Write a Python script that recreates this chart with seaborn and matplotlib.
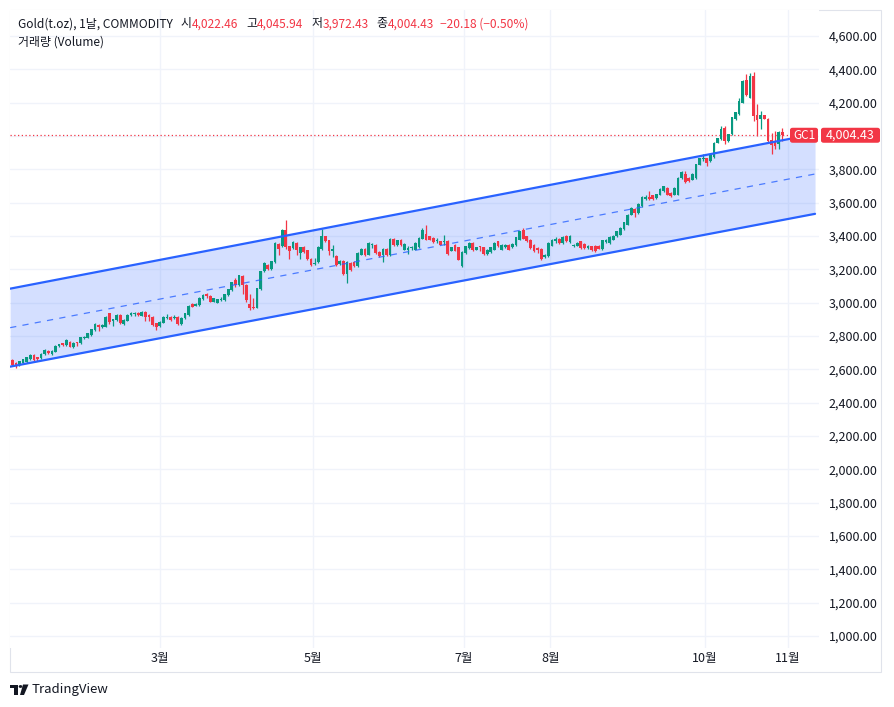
import matplotlib
matplotlib.use('Agg')
import matplotlib.pyplot as plt
from matplotlib.patches import FancyBboxPatch, Rectangle, Circle, Polygon
from matplotlib.ticker import FuncFormatter
import numpy as np
import pandas as pd
import seaborn as sns

# ---- GC1 daily candles ----
opens = [
    2655, 2639, 2625, 2639, 2645, 2660, 2685, 2672, 2666, 2692,
    2710, 2690, 2706, 2740, 2756, 2746, 2766, 2734, 2760, 2756,
    2788, 2790, 2806, 2836, 2866, 2852, 2856, 2936, 2892, 2896,
    2926, 2870, 2892, 2926, 2933, 2940, 2922, 2946, 2926, 2916,
    2876, 2860, 2880, 2907, 2916, 2907, 2916, 2872, 2907, 2926,
    2990, 2982, 2987, 3021, 3051, 3041, 3006, 3000, 3015, 3013,
    3047, 3073, 3137, 3103, 3163, 3107, 2993, 2976, 2970, 3081,
    3187, 3227, 3201, 3241, 3352, 3340, 3438, 3338, 3328, 3358,
    3298, 3334, 3314, 3262, 3232, 3241, 3322, 3398, 3374, 3308,
    3281, 3231, 3251, 3173, 3238, 3244, 3217, 3288, 3322, 3288,
    3345, 3348, 3304, 3284, 3322, 3284, 3382, 3344, 3374, 3318,
    3318, 3326, 3318, 3332, 3384, 3412, 3398, 3388, 3372, 3368,
    3364, 3372, 3312, 3348, 3332, 3217, 3298, 3328, 3358, 3318,
    3338, 3332, 3292, 3304, 3318, 3368, 3318, 3332, 3348, 3332,
    3344, 3378, 3438, 3398, 3378, 3348, 3328, 3322, 3274, 3281,
    3342, 3368, 3382, 3358, 3398, 3362, 3340, 3342, 3368, 3354,
    3328, 3338, 3342, 3342, 3322, 3362, 3358, 3378, 3398, 3408,
    3442, 3468, 3528, 3563, 3539, 3579, 3623, 3635, 3643, 3629,
    3649, 3669, 3689, 3659, 3649, 3649, 3749, 3773, 3749, 3739,
    3749, 3829, 3860, 3866, 3849, 3873, 3960, 3980, 4046, 3970,
    4010, 4100, 4130, 4201, 4335, 4231, 4361, 4124, 4100, 4124,
    4100, 3974, 3966, 3950, 4022.46,
]
highs = [
    2660, 2642, 2652, 2664, 2676, 2695, 2690, 2676, 2696, 2725,
    2714, 2714, 2744, 2754, 2760, 2780, 2770, 2764, 2766, 2796,
    2800, 2820, 2844, 2876, 2870, 2870, 2920, 2940, 2905, 2930,
    2930, 2900, 2930, 2946, 2946, 2946, 2950, 2950, 2930, 2920,
    2880, 2890, 2918, 2931, 2920, 2928, 2920, 2914, 2940, 2986,
    3000, 2996, 3035, 3051, 3057, 3045, 3031, 3025, 3033, 3055,
    3085, 3127, 3147, 3167, 3167, 3111, 3051, 3027, 3091, 3191,
    3242, 3232, 3252, 3362, 3356, 3445, 3498, 3342, 3368, 3362,
    3336, 3338, 3318, 3266, 3268, 3338, 3442, 3402, 3378, 3348,
    3285, 3255, 3255, 3251, 3242, 3248, 3302, 3326, 3326, 3362,
    3358, 3352, 3308, 3328, 3326, 3386, 3386, 3378, 3380, 3356,
    3338, 3338, 3362, 3392, 3448, 3464, 3402, 3392, 3388, 3372,
    3404, 3376, 3336, 3352, 3336, 3308, 3342, 3362, 3364, 3336,
    3342, 3336, 3322, 3336, 3362, 3372, 3352, 3352, 3352, 3356,
    3396, 3432, 3448, 3402, 3382, 3352, 3332, 3326, 3292, 3362,
    3382, 3392, 3386, 3398, 3408, 3406, 3354, 3362, 3372, 3358,
    3346, 3342, 3346, 3346, 3378, 3382, 3398, 3406, 3432, 3452,
    3486, 3532, 3573, 3569, 3597, 3639, 3649, 3669, 3647, 3653,
    3689, 3703, 3693, 3663, 3693, 3753, 3789, 3790, 3753, 3777,
    3833, 3870, 3890, 3870, 3898, 3964, 3990, 4060, 4060, 4014,
    4115, 4145, 4231, 4335, 4375, 4381, 4385, 4191, 4150, 4128,
    4111, 4020, 4030, 4030, 4045.94,
]
lows = [
    2620, 2609, 2620, 2635, 2640, 2656, 2650, 2652, 2662, 2688,
    2692, 2686, 2702, 2736, 2742, 2742, 2732, 2730, 2742, 2752,
    2784, 2786, 2802, 2832, 2832, 2848, 2852, 2875, 2860, 2892,
    2872, 2866, 2888, 2920, 2922, 2922, 2918, 2892, 2892, 2862,
    2836, 2855, 2876, 2900, 2892, 2900, 2868, 2868, 2903, 2922,
    2973, 2978, 2983, 3017, 3027, 3002, 3002, 2996, 3012, 3009,
    3043, 3069, 3097, 3099, 3051, 3006, 2957, 2962, 2966, 3077,
    3183, 3195, 3197, 3237, 3288, 3336, 3322, 3262, 3324, 3284,
    3264, 3298, 3258, 3223, 3225, 3237, 3318, 3364, 3288, 3277,
    3223, 3227, 3169, 3121, 3189, 3213, 3213, 3284, 3280, 3284,
    3328, 3294, 3273, 3244, 3280, 3280, 3340, 3340, 3340, 3314,
    3292, 3318, 3314, 3328, 3380, 3374, 3374, 3360, 3358, 3344,
    3348, 3288, 3308, 3308, 3254, 3213, 3294, 3324, 3312, 3314,
    3308, 3288, 3288, 3300, 3314, 3334, 3314, 3328, 3314, 3328,
    3340, 3374, 3380, 3364, 3324, 3304, 3298, 3258, 3270, 3277,
    3338, 3358, 3354, 3354, 3364, 3358, 3334, 3338, 3324, 3324,
    3324, 3310, 3304, 3320, 3318, 3358, 3354, 3374, 3394, 3404,
    3438, 3464, 3524, 3515, 3535, 3575, 3619, 3619, 3619, 3625,
    3645, 3665, 3645, 3635, 3645, 3645, 3745, 3720, 3725, 3735,
    3745, 3825, 3850, 3819, 3845, 3869, 3956, 3976, 3950, 3966,
    4006, 4096, 4126, 4197, 4243, 4227, 4090, 4000, 4040, 4100,
    3960, 3890, 3920, 3920, 3972.43,
]
closes = [
    2625, 2625, 2649, 2660, 2672, 2685, 2655, 2660, 2692, 2716,
    2696, 2710, 2740, 2750, 2746, 2776, 2736, 2760, 2756, 2792,
    2796, 2816, 2840, 2872, 2852, 2866, 2916, 2886, 2900, 2926,
    2876, 2896, 2926, 2936, 2940, 2926, 2946, 2913, 2913, 2866,
    2856, 2886, 2913, 2916, 2896, 2913, 2872, 2910, 2936, 2982,
    2976, 2992, 3031, 3047, 3041, 3006, 3027, 3021, 3021, 3051,
    3081, 3123, 3107, 3163, 3107, 3017, 2970, 2970, 3087, 3187,
    3238, 3201, 3247, 3358, 3322, 3438, 3332, 3308, 3364, 3314,
    3332, 3302, 3262, 3227, 3238, 3334, 3398, 3368, 3308, 3324,
    3227, 3251, 3173, 3247, 3193, 3217, 3298, 3322, 3284, 3358,
    3350, 3298, 3277, 3324, 3284, 3382, 3344, 3374, 3344, 3352,
    3328, 3330, 3358, 3388, 3438, 3378, 3378, 3364, 3378, 3348,
    3368, 3292, 3332, 3312, 3258, 3304, 3338, 3358, 3318, 3332,
    3332, 3292, 3318, 3332, 3358, 3338, 3348, 3348, 3318, 3352,
    3392, 3428, 3384, 3368, 3328, 3308, 3318, 3262, 3288, 3358,
    3378, 3382, 3358, 3394, 3368, 3402, 3344, 3358, 3328, 3328,
    3342, 3314, 3308, 3324, 3374, 3378, 3394, 3402, 3428, 3448,
    3482, 3528, 3569, 3539, 3593, 3635, 3635, 3623, 3623, 3649,
    3685, 3699, 3649, 3639, 3689, 3749, 3785, 3725, 3729, 3773,
    3829, 3866, 3870, 3840, 3894, 3960, 3986, 4040, 3970, 4010,
    4111, 4141, 4207, 4331, 4247, 4361, 4120, 4094, 4124, 4104,
    3970, 3946, 3940, 4024.61, 4004.43,
]

# month labels on the time axis (bar index of the first bar of the month)
month_labels = ['3월', '5월', '7월', '8월', '10월', '11월']
month_pos = [41, 83.5, 125.5, 149.5, 192.5, 215.5]

# parallel channel drawing: (bar index, price) anchors
channel_x = [-0.6, 223.1]
channel_upper = [3084, 4012]
channel_lower = [2616, 3533]
channel_mid = [2850, 3772]

price_ticks = list(range(1000, 4601, 200))

SYMBOL = 'GC1'
UP = '#089981'
DOWN = '#f23645'
BLUE = '#2962ff'
TXT = '#131722'
GRID = '#f0f3fa'

sns.set_theme(style='white')
plt.rcParams['font.family'] = ['Noto Sans CJK KR', 'DejaVu Sans']

W, H = 894, 707
fig = plt.figure(figsize=(W / 100, H / 100), dpi=100)
fig.patch.set_facecolor('white')


def fx(x):
    return x / W


def fy(y):
    return 1 - y / H


ax = fig.add_axes([fx(10), fy(648), (819 - 10) / W, (648 - 10) / H])
ax.set_facecolor('white')

df = pd.DataFrame({'open': opens, 'high': highs, 'low': lows, 'close': closes})
df['idx'] = np.arange(len(df))
colors = np.where(df['close'] >= df['open'], UP, DOWN)

# channel fill
ax.fill_between(channel_x, channel_lower, channel_upper, color=BLUE, alpha=0.2, lw=0, zorder=1)

# candles
ax.vlines(df['idx'], df['low'], df['high'], colors=colors, lw=0.9, zorder=3)
body_lo = df[['open', 'close']].min(axis=1)
body_h = (df['close'] - df['open']).abs().clip(lower=6)
ax.bar(df['idx'], body_h, bottom=body_lo, width=0.76, color=colors, lw=0, zorder=3)

# channel lines
sns.lineplot(x=channel_x, y=channel_upper, color=BLUE, lw=1.6, ax=ax, zorder=4)
sns.lineplot(x=channel_x, y=channel_lower, color=BLUE, lw=1.6, ax=ax, zorder=4)
sns.lineplot(x=channel_x, y=channel_mid, color=BLUE, lw=0.9, alpha=0.8,
             linestyle=(0, (5, 5)), ax=ax, zorder=4)

# last price dotted line
last_close = closes[-1]
ax.axhline(last_close, color=DOWN, lw=0.9, linestyle=(0, (1, 2)), zorder=2)

ax.set_xlim(-0.64, 224.2)
ax.set_ylim(928, 4756)


def price_fmt(v, p):
    # the scale label hidden under the last-price tag
    if abs(v - last_close) < 60:
        return ''
    return f'{v:,.2f}'


ax.set_yticks(price_ticks)
ax.yaxis.set_major_formatter(FuncFormatter(price_fmt))
ax.yaxis.tick_right()
ax.tick_params(axis='y', length=0, pad=7, labelsize=9, colors=TXT)
ax.set_xticks(month_pos)
ax.set_xticklabels(month_labels)
ax.tick_params(axis='x', length=0, pad=3, labelsize=9, colors=TXT)
ax.grid(True, color=GRID, lw=1)
ax.set_axisbelow(True)
for s in ax.spines.values():
    s.set_visible(False)
ax.set_xlabel('')
ax.set_ylabel('')

# outer frame
fig.add_artist(Rectangle((fx(10), fy(672)), (881 - 10) / W, (672 - 10) / H,
                         transform=fig.transFigure, fill=False,
                         edgecolor='#e0e3eb', lw=0.8, zorder=0))

# header legend line
renderer = fig.canvas.get_renderer()
prev_close = closes[-2]
chg = last_close - prev_close
pct = chg / prev_close * 100


def fmt(v):
    return f'{v:,.2f}'.replace('-', '\u2212')


pieces = [
    ('Gold(t.oz), 1날, COMMODITY', TXT, 8),
    ('시', TXT, 0), (fmt(opens[-1]), DOWN, 8),
    ('고', TXT, 0), (fmt(highs[-1]), DOWN, 8),
    ('저', TXT, 0), (fmt(lows[-1]), DOWN, 8),
    ('종', TXT, 0), (fmt(last_close), DOWN, 6),
    (f'{fmt(chg)} ({fmt(pct)}%)', DOWN, 0),
]
xpos = 18
for text, col, gap in pieces:
    t = fig.text(fx(xpos), fy(24), text, color=col, fontsize=8.6, va='center', ha='left')
    bb = t.get_window_extent(renderer=renderer)
    xpos += bb.width + gap
fig.text(fx(18), fy(42), '거래량 (Volume)', color=TXT, fontsize=8.6, va='center', ha='left')

# price tags on the right
y_disp = ax.transData.transform((0, last_close))[1]
y_px = H - y_disp
box_h = 15
fig.add_artist(FancyBboxPatch((fx(790), fy(y_px + box_h / 2)), 28 / W, box_h / H,
                              boxstyle='round,pad=0,rounding_size=0.003',
                              transform=fig.transFigure, facecolor=DOWN,
                              edgecolor='none', zorder=5))
fig.text(fx(804), fy(y_px), SYMBOL, color='white', fontsize=8.5, ha='center',
         va='center', zorder=6)
fig.add_artist(FancyBboxPatch((fx(821), fy(y_px + box_h / 2)), 59 / W, box_h / H,
                              boxstyle='round,pad=0,rounding_size=0.003',
                              transform=fig.transFigure, facecolor=DOWN,
                              edgecolor='none', zorder=5))
fig.text(fx(850.5), fy(y_px), fmt(last_close), color='white', fontsize=9,
         ha='center', va='center', zorder=6)

# TradingView mark
fig.add_artist(Rectangle((fx(10), fy(688)), 8 / W, 3.5 / H, transform=fig.transFigure,
                         facecolor=TXT, edgecolor='none'))
fig.add_artist(Rectangle((fx(14), fy(695)), 3.5 / W, 10 / H, transform=fig.transFigure,
                         facecolor=TXT, edgecolor='none'))
fig.add_artist(Circle((fx(20.5), fy(686.5)), 1.8 / W, transform=fig.transFigure,
                      facecolor=TXT, edgecolor='none'))
fig.add_artist(Polygon([(fx(23), fy(684.5)), (fx(28.5), fy(684.5)),
                        (fx(24), fy(695)), (fx(20), fy(695))],
                       transform=fig.transFigure, facecolor=TXT, edgecolor='none'))
fig.text(fx(32), fy(689.5), 'TradingView', color=TXT, fontsize=9.5, va='center', ha='left')

fig.savefig('out.png', dpi=100, facecolor='white')
